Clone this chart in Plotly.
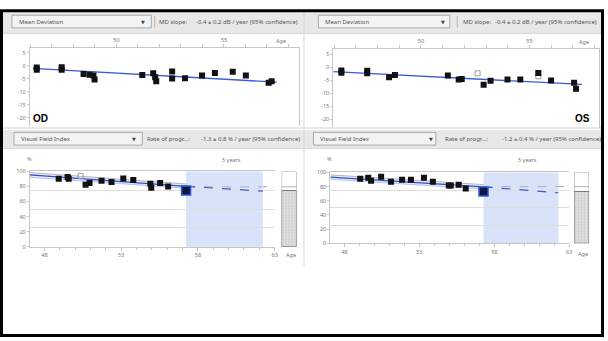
import plotly.graph_objects as go

W, H = 608, 341

# ---------------- data ----------------
md_tick_ages = [50, 55]
md_ticks = [5, 0, -5, -10, -15, -20]
vfi_tick_ages = [48, 53, 58, 63]
vfi_ticks = [0, 20, 40, 60, 80, 100]
vfi_grid = [25, 50, 75]
projection_years = 5

od_md_ages = [46.29, 46.29, 47.45, 47.45, 48.47, 48.75, 48.93, 48.98, 51.2, 51.71, 51.8,
              51.85, 52.59, 52.59, 53.19, 53.98, 54.58, 55.41, 56.02, 57.08, 57.22]
od_md = [-0.64, -1.5, -0.53, -1.5, -3.16, -3.4, -3.77, -5.27, -3.54, -2.9, -4.4,
         -5.9, -2.15, -4.9, -4.78, -3.77, -2.8, -2.26, -3.77, -6.55, -5.9]
od_md_fit_ages = [46.11, 57.45]
od_md_fit = [-1.02, -6.29]

os_md_ages = [46.33, 46.33, 47.52, 47.52, 48.53, 48.8, 51.24, 51.74, 51.88, 52.89, 53.21,
              53.99, 54.58, 55.41, 56.0, 57.06, 57.15]
os_md = [-1.21, -2.08, -1.32, -2.34, -3.84, -2.98, -3.2, -4.7, -4.48, -6.74, -5.23,
         -4.71, -4.71, -2.22, -5.08, -5.99, -8.24]
os_md_open_ages = [52.61, 55.41]
os_md_open = [-2.34, -3.47]
os_md_fit_ages = [45.96, 57.43]
os_md_fit = [-1.7, -6.6]

od_vfi_ages = [48.93, 49.51, 49.58, 50.68, 50.94, 51.72, 52.37, 53.14, 53.79, 54.9, 54.96,
               55.54, 56.06, 57.23]
od_vfi = [90.3, 92.5, 90.3, 82.5, 84.7, 87.7, 86.0, 90.6, 88.6, 83.8, 78.2, 84.7, 79.9, 74.7]
od_vfi_open_ages = [50.36]
od_vfi_open = [94.2]
od_vfi_fit_ages = [47.05, 57.23]
od_vfi_fit = [95.5, 80.3]
od_vfi_upper = [98.5, 83.4]
od_vfi_lower = [92.3, 77.6]
od_vfi_proj = [80.3, 73.8]
od_vfi_ref = 79.6

os_vfi_ages = [49.04, 49.58, 49.77, 50.44, 51.1, 51.84, 52.43, 53.3, 53.9, 54.96, 55.09,
               55.62, 56.09, 57.28]
os_vfi = [91.0, 92.4, 88.3, 93.8, 86.9, 89.7, 89.7, 92.4, 86.9, 81.4, 81.4, 82.8, 77.2, 73.1]
os_vfi_fit_ages = [47.05, 57.28]
os_vfi_fit = [93.4, 79.6]
os_vfi_upper = [96.6, 82.8]
os_vfi_lower = [90.3, 76.5]
os_vfi_proj = [79.6, 71.3]
os_vfi_ref = 80.0

md_label = "Mean Deviation"
md_slope_label = "MD slope:"
od_md_slope = "-0.4 ± 0.2 dB / year (95% confidence)"
os_md_slope = "-0.4 ± 0.2 dB / year (95% confidence)"
vfi_label = "Visual Field Index"
vfi_rate_label = "Rate of progr...:"
od_vfi_rate = "-1.3 ± 0.8 % / year (95% confidence)"
os_vfi_rate = "-1.2 ± 0.4 % / year (95% confidence)"

# ---------------- helpers ----------------
def fx(px):
    return px / W

def fy(py):
    return 1 - py / H

FONT = "Noto Sans, DejaVu Sans, sans-serif"
TXT = "#555555"
AX = "#c6c6c6"
BLACK_SQ = dict(symbol="square", size=6, color="#111111", line=dict(width=0))
OPEN_SQ = dict(symbol="square-open", size=5, color="#9a9a9a", line=dict(width=1))

fig = go.Figure()

# ---------- MD plots ----------
def add_md(xa, ya, ages, vals, fit_ages, fit, open_ages=None, open_vals=None):
    fig.add_trace(go.Scatter(x=fit_ages, y=fit, mode="lines", xaxis=xa, yaxis=ya,
                             line=dict(color="#3a5bd6", width=1.3), hoverinfo="skip"))
    if open_ages:
        fig.add_trace(go.Scatter(x=open_ages, y=open_vals, mode="markers", xaxis=xa, yaxis=ya,
                                 marker=OPEN_SQ))
    fig.add_trace(go.Scatter(x=ages, y=vals, mode="markers", xaxis=xa, yaxis=ya,
                             marker=BLACK_SQ))

add_md("x", "y", od_md_ages, od_md, od_md_fit_ages, od_md_fit)
add_md("x2", "y2", os_md_ages, os_md, os_md_fit_ages, os_md_fit, os_md_open_ages, os_md_open)

# ---------- VFI plots ----------
def add_vfi(xa, ya, ages, vals, fit_ages, fit, upper, lower, proj, ref, open_ages=None, open_vals=None):
    cur = ages[-1]
    end = cur + projection_years
    fig.add_trace(go.Scatter(x=fit_ages, y=lower, mode="lines", xaxis=xa, yaxis=ya,
                             line=dict(color="#9fb4ee", width=0.8), hoverinfo="skip"))
    fig.add_trace(go.Scatter(x=fit_ages, y=upper, mode="lines", xaxis=xa, yaxis=ya,
                             fill="tonexty", fillcolor="rgba(150,175,240,0.25)",
                             line=dict(color="#a5a5a5", width=0.8), hoverinfo="skip"))
    fig.add_trace(go.Scatter(x=[cur, 63.0], y=[ref, ref], mode="lines", xaxis=xa, yaxis=ya,
                             line=dict(color="#b0b0b0", width=1, dash="dash"), hoverinfo="skip"))
    fig.add_trace(go.Scatter(x=[cur, end], y=proj, mode="lines", xaxis=xa, yaxis=ya,
                             line=dict(color="#3a5bd6", width=1.2, dash="dash"), hoverinfo="skip"))
    fig.add_trace(go.Scatter(x=fit_ages, y=fit, mode="lines", xaxis=xa, yaxis=ya,
                             line=dict(color="#2f4fbf", width=1.2), hoverinfo="skip"))
    if open_ages:
        fig.add_trace(go.Scatter(x=open_ages, y=open_vals, mode="markers", xaxis=xa, yaxis=ya,
                                 marker=OPEN_SQ))
    fig.add_trace(go.Scatter(x=ages[:-1], y=vals[:-1], mode="markers", xaxis=xa, yaxis=ya,
                             marker=BLACK_SQ))
    fig.add_trace(go.Scatter(x=ages[-1:], y=vals[-1:], mode="markers", xaxis=xa, yaxis=ya,
                             marker=dict(symbol="square", size=9, color="#0b1a45",
                                         line=dict(color="#3556d0", width=1.5))))

add_vfi("x3", "y3", od_vfi_ages, od_vfi, od_vfi_fit_ages, od_vfi_fit, od_vfi_upper,
        od_vfi_lower, od_vfi_proj, od_vfi_ref, od_vfi_open_ages, od_vfi_open)
add_vfi("x4", "y4", os_vfi_ages, os_vfi, os_vfi_fit_ages, os_vfi_fit, os_vfi_upper,
        os_vfi_lower, os_vfi_proj, os_vfi_ref)

# ---------- VFI bars ----------
def add_bar(xa, ya, value, ref):
    fig.add_trace(go.Bar(x=[0.5], y=[100], width=[1], xaxis=xa, yaxis=ya,
                         marker=dict(color="white", line=dict(color="#9a9a9a", width=1))))
    fig.add_trace(go.Bar(x=[0.5], y=[value], width=[1], xaxis=xa, yaxis=ya,
                         marker=dict(color="#dcdcdc", line=dict(color="#7a7a7a", width=1),
                                     pattern=dict(shape=".", fgcolor="#a8a8a8", bgcolor="#e2e2e2",
                                                  size=3, solidity=0.3))))
    fig.add_trace(go.Scatter(x=[0, 1], y=[ref, ref], mode="lines", xaxis=xa, yaxis=ya,
                             line=dict(color="#b0b0b0", width=1), hoverinfo="skip"))

add_bar("x5", "y5", od_vfi[-1], od_vfi_ref)
add_bar("x6", "y6", os_vfi[-1], os_vfi_ref)

tickfont = dict(family=FONT, size=5.5, color="#777777")

def md_xaxis(px0, px1, rng, anchor):
    return dict(domain=[fx(px0), fx(px1)], range=rng, anchor=anchor, side="top",
                tickvals=md_tick_ages, ticktext=[str(v) for v in md_tick_ages],
                ticks="outside", ticklen=3, tickcolor=AX, showline=True, linecolor=AX,
                linewidth=1, showgrid=False, zeroline=False, tickfont=tickfont,
                minor=dict(dtick=1, ticks="outside", ticklen=3, tickcolor=AX))

def md_yaxis(py_top, py_bot, anchor):
    return dict(domain=[fy(py_bot), fy(py_top)], range=[-23.2, 6.88], anchor=anchor,
                tickvals=md_ticks, ticktext=[str(v) for v in md_ticks], ticks="outside",
                ticklen=2, tickcolor=AX, showline=True, linecolor=AX, mirror=True,
                showgrid=False, zeroline=False, tickfont=tickfont)

def vfi_xaxis(px0, px1, anchor):
    return dict(domain=[fx(px0), fx(px1)], range=[47.05, 63.0], anchor=anchor,
                tickvals=vfi_tick_ages, ticktext=[str(v) for v in vfi_tick_ages],
                ticks="outside", ticklen=3, tickcolor=AX, showline=True, linecolor=AX,
                mirror=True, showgrid=False, zeroline=False, tickfont=tickfont,
                minor=dict(dtick=1, ticks="outside", ticklen=2, tickcolor=AX))

def vfi_yaxis(py_top, py_bot, anchor):
    return dict(domain=[fy(py_bot), fy(py_top)], range=[0, 100], anchor=anchor,
                tickvals=vfi_ticks, ticktext=[str(v) for v in vfi_ticks], ticks="outside",
                ticklen=2, tickcolor=AX, showline=True, linecolor=AX, showgrid=False,
                zeroline=False, tickfont=tickfont,
                minor=dict(tickmode="array", tickvals=vfi_grid, showgrid=True,
                           gridcolor="#dedede", gridwidth=1, ticks=""))

def bar_axes(px0, px1, py_top, py_bot, xa, ya):
    return (dict(domain=[fx(px0), fx(px1)], range=[0, 1], anchor=ya, visible=False),
            dict(domain=[fy(py_bot), fy(py_top)], range=[0, 100], anchor=xa, visible=False))

bx5, by5 = bar_axes(283, 298, 171.5, 248.5, "x5", "y5")
bx6, by6 = bar_axes(577, 592, 172.5, 245, "x6", "y6")

# ---------- shapes ----------
shapes = []
def rect(x0, y0, x1, y1, fill, line=None, lw=0):
    shapes.append(dict(type="rect", xref="paper", yref="paper", x0=fx(x0), x1=fx(x1),
                       y0=fy(y1), y1=fy(y0), fillcolor=fill,
                       line=dict(color=line or fill, width=lw), layer="below"))

def hline(x0, x1, y, color, w=1):
    shapes.append(dict(type="line", xref="paper", yref="paper", x0=fx(x0), x1=fx(x1),
                       y0=fy(y), y1=fy(y), line=dict(color=color, width=w)))

def vline(x, y0, y1, color, w=1):
    shapes.append(dict(type="line", xref="paper", yref="paper", x0=fx(x), x1=fx(x),
                       y0=fy(y0), y1=fy(y1), line=dict(color=color, width=w)))

# header bands
rect(3, 8, 605, 30, "#e8e8e8")
rect(3, 129, 605, 148, "#e8e8e8")
hline(3, 605, 30, "#d4d4d4")
hline(3, 605, 127, "#d0d0d0")
hline(3, 605, 148, "#d8d8d8")
vline(305.5, 8, 268, "#d6d6d6")
# dropdown boxes
rect(12, 11.5, 152, 24.5, "#f3f3f3", "#a8a8a8", 1)
rect(320, 11.5, 452, 24.5, "#f3f3f3", "#a8a8a8", 1)
rect(14, 131.5, 143, 144.5, "#f3f3f3", "#a8a8a8", 1)
rect(315, 131.5, 438, 144.5, "#f3f3f3", "#a8a8a8", 1)
vline(155.5, 12, 24, "#b5b5b5")
vline(459.5, 12, 24, "#b5b5b5")
# projection shading (data-driven)
for xr, yr, ages in (("x3", "y3 domain", od_vfi_ages), ("x4", "y4 domain", os_vfi_ages)):
    shapes.append(dict(type="rect", xref=xr, yref=yr, x0=ages[-1], x1=ages[-1] + projection_years,
                       y0=0, y1=1, fillcolor="#d8e3f9", line=dict(width=0), layer="below"))
# outer black frame
shapes.append(dict(type="rect", xref="paper", yref="paper", x0=fx(1.5), x1=fx(605.5),
                   y0=fy(339.5), y1=fy(7), line=dict(color="black", width=3)))

# ---------- annotations ----------
ann = []
def text(s, x, y, anchor="left", size=6, color=TXT, bold=False, family=FONT):
    ann.append(dict(text=f"<b>{s}</b>" if bold else s, x=fx(x), y=fy(y), xref="paper",
                    yref="paper", xanchor=anchor, yanchor="middle", showarrow=False,
                    font=dict(family=family, size=size, color=color)))

text(md_label, 17, 18)
text("▼", 144, 18, "center", 5, "#444")
text(md_slope_label, 158, 18)
text(od_md_slope, 195, 18)
text(md_label, 325, 18)
text("▼", 445, 18, "center", 5, "#444")
text(md_slope_label, 463, 18)
text(os_md_slope, 495, 18)

text(vfi_label, 19, 138)
text("▼", 135, 138, "center", 5, "#444")
text(vfi_rate_label, 146, 138)
text(od_vfi_rate, 200, 138)
text(vfi_label, 320, 138)
text("▼", 433, 138, "center", 5, "#444")
text(vfi_rate_label, 445, 138)
text(os_vfi_rate, 502, 138)

text("Age", 282, 38, "center", 5.5, "#777")
text("Age", 587, 39, "center", 5.5, "#777")
text("Age", 292, 257, "center", 5.5, "#777")
text("Age", 586, 256, "center", 5.5, "#777")
text("%", 30, 159, "center", 5.5, "#777")
text("%", 331, 159, "center", 5.5, "#777")
text("5 years", 233, 160, "center", 5.5, "#777")
text("5 years", 530, 160, "center", 5.5, "#777")

text("OD", 31, 117, "left", 10, "#000", True, "Liberation Sans, Arial, sans-serif")
text("OS", 595, 117, "right", 10, "#000", True, "Liberation Sans, Arial, sans-serif")

fig.update_layout(
    width=W, height=H, autosize=False,
    margin=dict(l=0, r=0, t=0, b=0),
    paper_bgcolor="white", plot_bgcolor="rgba(0,0,0,0)",
    showlegend=False, barmode="overlay",
    xaxis=md_xaxis(30, 300, [45.97, 58.47], "y"),
    yaxis=md_yaxis(45, 125, "x"),
    xaxis2=md_xaxis(335, 602, [45.96, 58.21], "y2"),
    yaxis2=md_yaxis(46.5, 126.5, "x2"),
    xaxis3=vfi_xaxis(30, 276, "y3"),
    yaxis3=vfi_yaxis(171.5, 248.5, "x3"),
    xaxis4=vfi_xaxis(332, 572, "y4"),
    yaxis4=vfi_yaxis(172.5, 245, "x4"),
    xaxis5=bx5, yaxis5=by5, xaxis6=bx6, yaxis6=by6,
    shapes=shapes, annotations=ann,
)

fig.write_html("out.html")
